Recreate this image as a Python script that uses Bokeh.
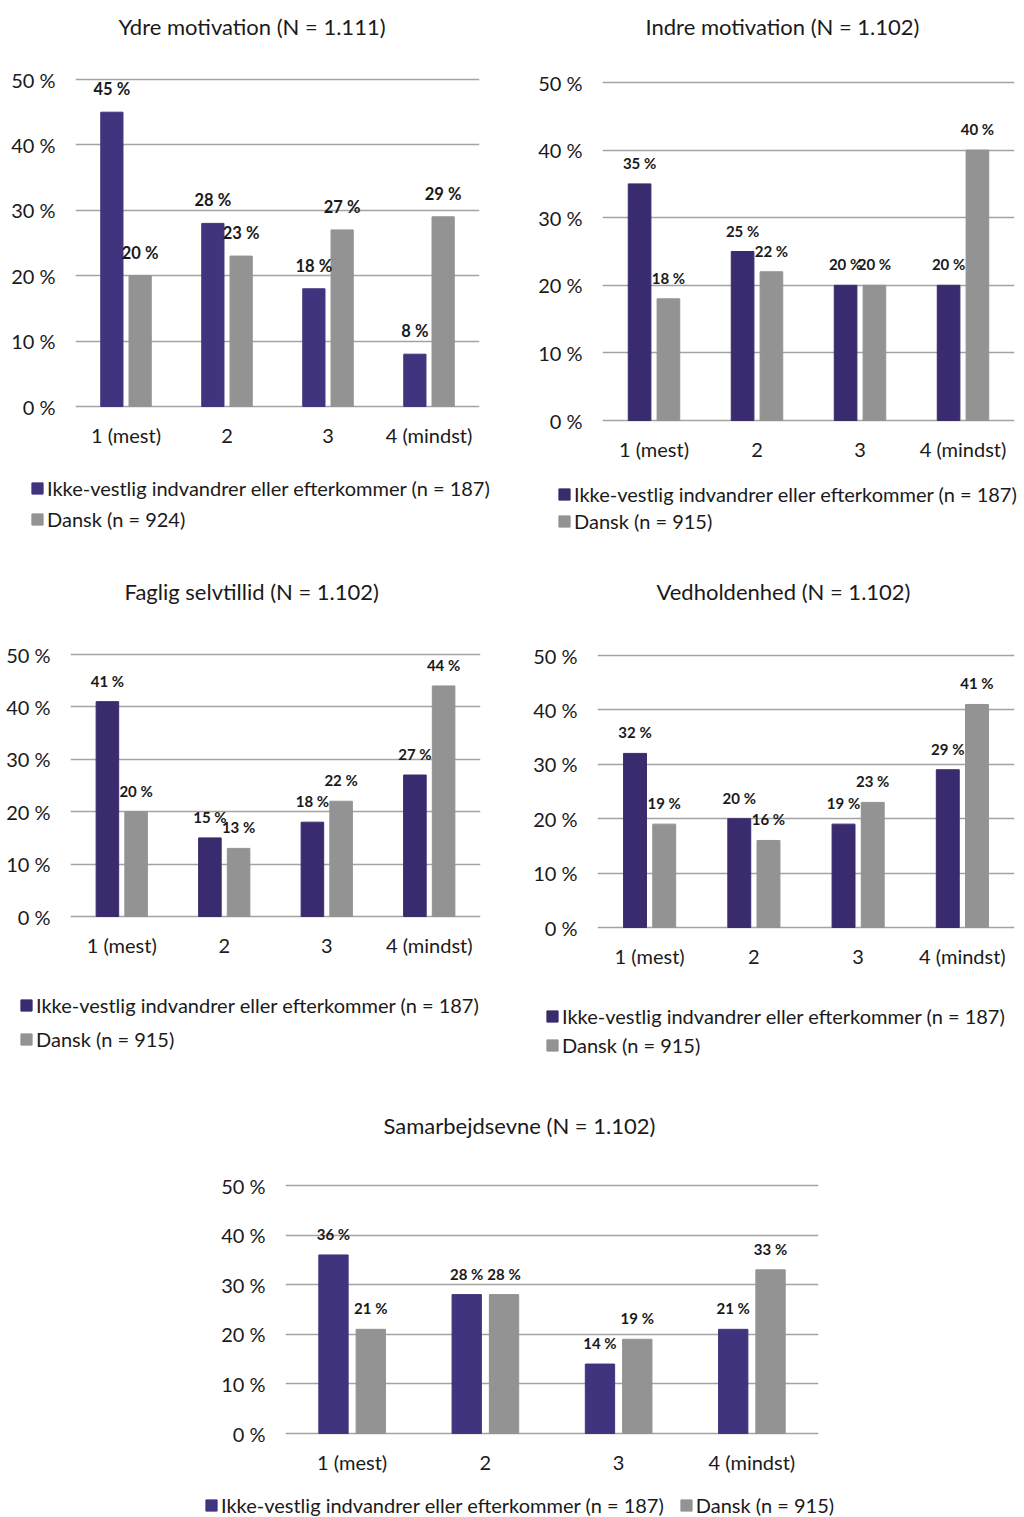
from bokeh.plotting import figure
from bokeh.models import (Range1d, FixedTicker, LabelSet, Label, Legend, LegendItem,
                          ColumnDataSource, Spacer)
from bokeh.layouts import column, row
from bokeh.embed import file_html
from bokeh.resources import INLINE
from bokeh.core.properties import value

# ---------------- data ----------------
categories = ["1 (mest)", "2", "3", "4 (mindst)"]
y_ticks = [0, 10, 20, 30, 40, 50]
y_tick_labels = ["0 %", "10 %", "20 %", "30 %", "40 %", "50 %"]

group_label = "Ikke-vestlig indvandrer eller efterkommer (n = 187)"

ydre_title = "Ydre motivation (N = 1.111)"
ydre_ikke = [45, 28, 18, 8]
ydre_dansk = [20, 23, 27, 29]
ydre_dansk_label = "Dansk (n = 924)"

indre_title = "Indre motivation (N = 1.102)"
indre_ikke = [35, 25, 20, 20]
indre_dansk = [18, 22, 20, 40]
indre_dansk_label = "Dansk (n = 915)"

faglig_title = "Faglig selvtillid (N = 1.102)"
faglig_ikke = [41, 15, 18, 27]
faglig_dansk = [20, 13, 22, 44]
faglig_dansk_label = "Dansk (n = 915)"

vedh_title = "Vedholdenhed (N = 1.102)"
vedh_ikke = [32, 20, 19, 29]
vedh_dansk = [19, 16, 23, 41]
vedh_dansk_label = "Dansk (n = 915)"

samarb_title = "Samarbejdsevne (N = 1.102)"
samarb_ikke = [36, 28, 14, 21]
samarb_dansk = [21, 28, 19, 33]
samarb_dansk_label = "Dansk (n = 915)"

# ---------------- style ----------------
FONT = "Lato"
TXT = "#1a1a1a"
GRAY = "#939393"
GRID = "#a3a3a3"
TICK_FS = "20px"
X_STANDOFF = 14
ITEM_H = 24    # legend item height (font box)
ITEM_TOP = 13  # distance from item centre to legend top


def blank_fig(w, h):
    f = figure(width=w, height=h, x_range=Range1d(0, w), y_range=Range1d(0, h),
               output_backend="svg", toolbar_location=None,
               x_axis_location=None, y_axis_location=None, min_border=0)
    f.outline_line_color = None
    f.grid.visible = False
    f.background_fill_color = "white"
    f.border_fill_color = "white"
    return f


def make_panel(title, ikke, dansk, dansk_label, purple,
               x0, w, top, bottom, fleft, fright, y50, y0,
               tleft, tcy, lleft, lcy, lstep, horizontal=False,
               lab_size="15px", lab_off=21):
    pad_px = 2
    ft_page = y50 - pad_px
    fb_page = y0 + pad_px
    ppu = (y0 - y50) / 50.0
    pad = pad_px / ppu
    th = ft_page - top - 10
    leg_top = lcy - ITEM_TOP
    chart_h = leg_top - (ft_page - 10)
    lh = bottom - leg_top
    fl = fleft - x0
    fw = fright - fleft

    # --- title strip (wrapped in a row so it is not frame-aligned with the chart)
    tw = w - 1
    tf = blank_fig(tw, th)
    tf.add_layout(Label(x=tleft - x0 - 1, y=th - (tcy - top), text=title,
                        text_align="left", text_baseline="middle",
                        text_font=FONT, text_font_size="22px", text_color=TXT))
    title_row = row(Spacer(width=1, height=th), tf)

    # --- chart
    p = figure(width=w, height=chart_h, x_range=Range1d(0, 4), y_range=Range1d(-pad, 50 + pad),
               output_backend="svg", toolbar_location=None,
               min_border_left=fl, min_border_right=w - fl - fw,
               min_border_top=10, min_border_bottom=leg_top - fb_page)
    p.outline_line_color = None
    p.background_fill_color = "white"
    p.border_fill_color = "white"

    xs = [i + 0.5 for i in range(len(categories))]
    xi = [x - 0.14 for x in xs]
    xd = [x + 0.14 for x in xs]
    si = ColumnDataSource(dict(x=xi, top=ikke, lab=[f"{v} %" for v in ikke]))
    sd = ColumnDataSource(dict(x=xd, top=dansk, lab=[f"{v} %" for v in dansk]))
    p.vbar(x="x", top="top", width=0.22, source=si, fill_color=purple, line_color=purple)
    p.vbar(x="x", top="top", width=0.22, source=sd, fill_color=GRAY, line_color=GRAY)
    for s in (si, sd):
        p.add_layout(LabelSet(x="x", y="top", text="lab", source=s, y_offset=lab_off,
                              text_align="center", text_baseline="middle",
                              text_font=value(FONT), text_font_style="bold",
                              text_font_size=lab_size, text_color=TXT))

    p.xaxis.ticker = FixedTicker(ticks=xs)
    p.xaxis.major_label_overrides = {x: c for x, c in zip(xs, categories)}
    p.yaxis.ticker = FixedTicker(ticks=y_ticks)
    p.yaxis.major_label_overrides = {t: l for t, l in zip(y_ticks, y_tick_labels)}
    for ax in (p.xaxis, p.yaxis):
        ax.axis_line_color = None
        ax.major_tick_line_color = None
        ax.minor_tick_line_color = None
        ax.major_tick_out = 0
        ax.major_tick_in = 0
        ax.minor_tick_out = 0
        ax.minor_tick_in = 0
        ax.major_label_text_font = FONT
        ax.major_label_text_font_size = TICK_FS
        ax.major_label_text_color = TXT
    p.yaxis.major_label_standoff = 20
    p.xaxis.major_label_standoff = X_STANDOFF
    p.xgrid.grid_line_color = None
    p.ygrid.ticker = FixedTicker(ticks=y_ticks)
    p.ygrid.grid_line_color = GRID
    p.ygrid.grid_line_width = 1.5

    # --- legend strip (swatch renderers sit far outside the visible range)
    lw = w - (lleft - x0)
    lf = blank_fig(lw, lh)
    sw = ColumnDataSource(dict(x=[-5000], top=[-5000], bottom=[-5001]))
    g1 = lf.vbar(x="x", top="top", bottom="bottom", width=1, source=sw,
                 fill_color=purple, line_color=purple)
    g2 = lf.vbar(x="x", top="top", bottom="bottom", width=1, source=sw,
                 fill_color=GRAY, line_color=GRAY)
    leg = Legend(items=[LegendItem(label=group_label, renderers=[g1]),
                        LegendItem(label=dansk_label, renderers=[g2])],
                 location="top_left",
                 orientation="horizontal" if horizontal else "vertical",
                 glyph_width=14, glyph_height=14, label_height=14, label_width=10,
                 label_standoff=3, spacing=lstep, padding=0, margin=0,
                 border_line_color=None, background_fill_alpha=0,
                 label_text_font=FONT, label_text_font_size="20px",
                 label_text_color=TXT, label_text_baseline="middle")
    lf.add_layout(leg)
    legend_row = row(Spacer(width=max(lleft - x0, 1), height=lh), lf) if lleft - x0 > 0 else lf
    return column(title_row, p, legend_row)


P1 = make_panel(ydre_title, ydre_ikke, ydre_dansk, ydre_dansk_label, "#41347e",
                0, 512, 0, 570, 75, 479, 79, 406,
                118, 26, 30, 489, 31 - ITEM_H, lab_size="16.5px", lab_off=23)
P2 = make_panel(indre_title, indre_ikke, indre_dansk, indre_dansk_label, "#3a2b6e",
                512, 512, 0, 570, 602, 1014, 82, 420,
                645, 26, 557, 495, 27 - ITEM_H)
P3 = make_panel(faglig_title, faglig_ikke, faglig_dansk, faglig_dansk_label, "#3a2b6e",
                0, 512, 570, 1090, 70, 480, 654, 916,
                124, 591, 19, 1006, 34 - ITEM_H)
P4 = make_panel(vedh_title, vedh_ikke, vedh_dansk, vedh_dansk_label, "#3a2b6e",
                512, 512, 570, 1090, 597, 1014, 655, 927,
                656, 591, 545, 1017, 29 - ITEM_H)
P5 = make_panel(samarb_title, samarb_ikke, samarb_dansk, samarb_dansk_label, "#41347e",
                0, 1024, 1090, 1517, 285, 818, 1185, 1433,
                383, 1125, 204, 1506, 15, horizontal=True)

layout = column(row(P1, P2), row(P3, P4), P5)
open("out.html", "w").write(file_html(layout, INLINE))
